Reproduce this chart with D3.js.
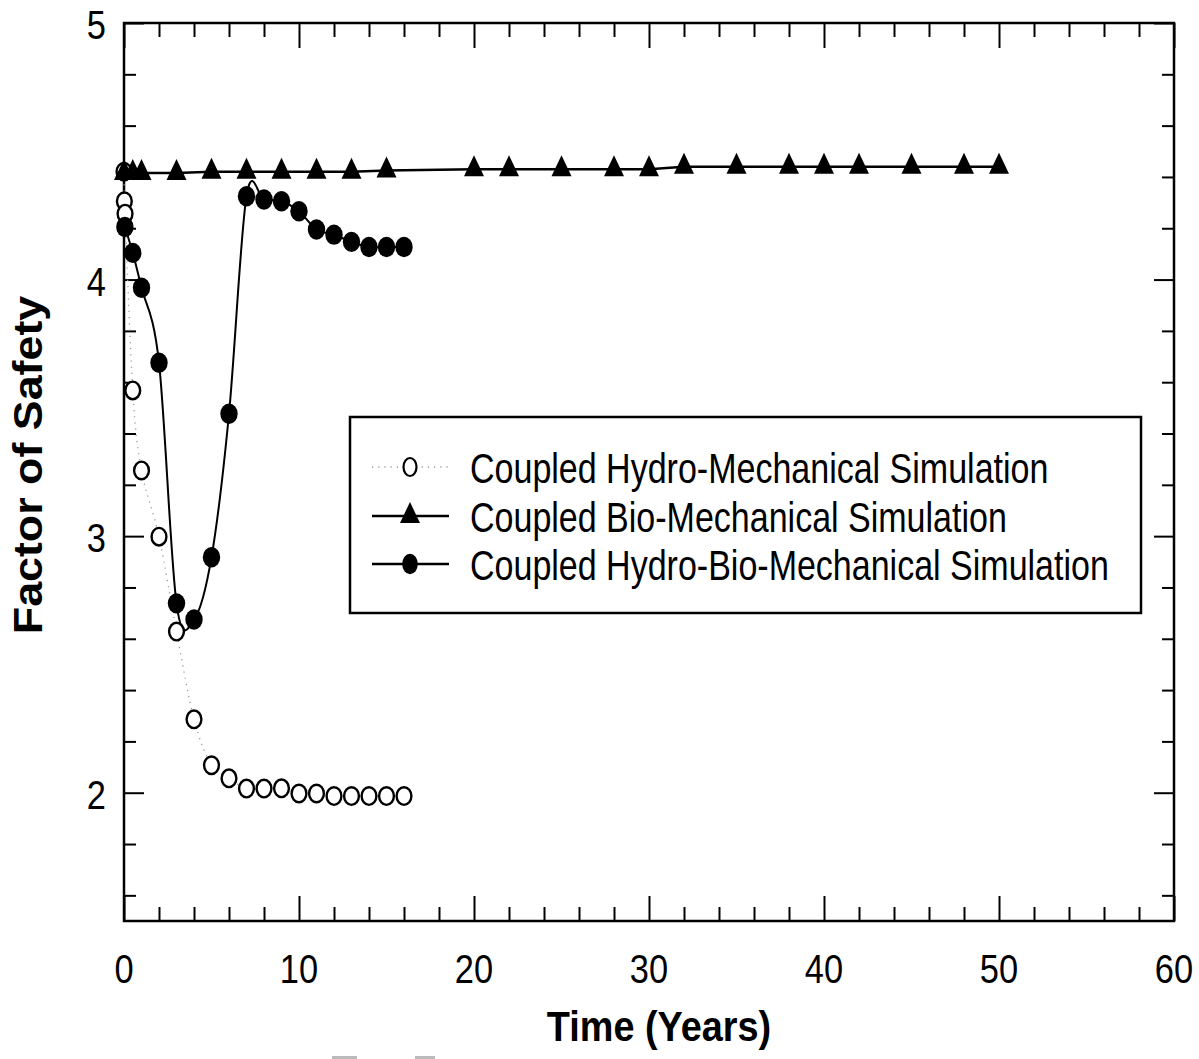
<!DOCTYPE html>
<html>
<head>
<meta charset="utf-8">
<script src="https://cdn.jsdelivr.net/npm/d3@7"></script>
<style>
  body { margin: 0; background: #fff; }
  svg { display: block; }
  text { font-family: "Liberation Sans", Arial, sans-serif; fill: #000; }
</style>
</head>
<body>
<div id="graph"></div>
<script>
// chart data
var hydroTime = [0, 0.02, 0.06, 0.5, 1, 2, 3, 4, 5, 6, 7, 8, 9, 10, 11, 12, 13, 14, 15, 16];
var hydroFos  = [4.42, 4.305, 4.257, 3.568, 3.256, 2.998, 2.628, 2.286, 2.107, 2.056, 2.016, 2.016, 2.017, 1.997, 1.997, 1.987, 1.987, 1.987, 1.987, 1.987];

var bioTime = [0, 0.5, 1, 3, 5, 7, 9, 11, 13, 15, 20, 22, 25, 28, 30, 32, 35, 38, 40, 42, 45, 48, 50];
var bioFos  = [4.415, 4.415, 4.415, 4.415, 4.42, 4.42, 4.42, 4.42, 4.42, 4.425, 4.43, 4.43, 4.43, 4.43, 4.43, 4.44, 4.44, 4.44, 4.44, 4.44, 4.44, 4.44, 4.44];

var hbmTime = [0.05, 0.5, 1, 2, 3, 4, 5, 6, 7, 8, 9, 10, 11, 12, 13, 14, 15, 16];
var hbmFos  = [4.205, 4.104, 3.968, 3.676, 2.738, 2.675, 2.918, 3.477, 4.325, 4.312, 4.305, 4.266, 4.195, 4.175, 4.147, 4.127, 4.127, 4.127];

var seriesNames = ["Coupled Hydro-Mechanical Simulation",
                   "Coupled Bio-Mechanical Simulation",
                   "Coupled Hydro-Bio-Mechanical Simulation"];

var xMajorTicks = [0, 10, 20, 30, 40, 50, 60];
var xMinorTicks = [2, 4, 6, 8, 12, 14, 16, 18, 22, 24, 26, 28, 32, 34, 36, 38, 42, 44, 46, 48, 52, 54, 56, 58];
var yMajorTicks = [2, 3, 4, 5];
var yMinorTicks = [1.6, 1.8, 2.2, 2.4, 2.6, 2.8, 3.2, 3.4, 3.6, 3.8, 4.2, 4.4, 4.6, 4.8];

var xTitle = "Time (Years)";
var yTitle = "Factor of Safety";

// layout
var width = 1199, height = 1059;
var plot = { left: 124, right: 1174, top: 23, bottom: 921 };

var svg = d3.select("#graph").append("svg")
  .attr("width", width)
  .attr("height", height);

var xScale = d3.scaleLinear().domain([0, 60]).range([plot.left, plot.right]);
var yScale = d3.scaleLinear().domain([1.5, 5]).range([plot.bottom, plot.top]);

// ticks on all four sides, pointing inward
function tickAxis(axisFn, scale, values, size, translate) {
  var g = svg.append("g")
    .attr("transform", translate)
    .call(axisFn(scale).tickValues(values).tickSize(-size).tickSizeOuter(0).tickFormat(""));
  g.select(".domain").remove();
  g.selectAll("line").attr("stroke", "#000").attr("stroke-width", 2);
  return g;
}

tickAxis(d3.axisBottom, xScale, xMinorTicks, 14, "translate(0," + plot.bottom + ")");
tickAxis(d3.axisTop, xScale, xMinorTicks, 14, "translate(0," + plot.top + ")");
tickAxis(d3.axisBottom, xScale, xMajorTicks, 25, "translate(0," + plot.bottom + ")");
tickAxis(d3.axisTop, xScale, xMajorTicks, 25, "translate(0," + plot.top + ")");
tickAxis(d3.axisLeft, yScale, yMinorTicks, 12, "translate(" + plot.left + ",0)");
tickAxis(d3.axisRight, yScale, yMinorTicks, 12, "translate(" + plot.right + ",0)");
tickAxis(d3.axisLeft, yScale, yMajorTicks, 20, "translate(" + plot.left + ",0)");
tickAxis(d3.axisRight, yScale, yMajorTicks, 20, "translate(" + plot.right + ",0)");

// frame
svg.append("rect")
  .attr("x", plot.left).attr("y", plot.top)
  .attr("width", plot.right - plot.left).attr("height", plot.bottom - plot.top)
  .attr("fill", "none").attr("stroke", "#000").attr("stroke-width", 2.5);

// tick labels (condensed Arial look)
var labelSize = 41, labelSx = 0.84;
svg.selectAll(".xlab").data(xMajorTicks).enter().append("text")
  .attr("transform", function(d) { return "translate(" + xScale(d) + ",983) scale(" + labelSx + ",1)"; })
  .attr("text-anchor", "middle")
  .style("font-size", labelSize + "px")
  .text(function(d) { return d; });

svg.selectAll(".ylab").data(yMajorTicks).enter().append("text")
  .attr("transform", function(d) { return "translate(106," + (yScale(d) + 16) + ") scale(" + labelSx + ",1)"; })
  .attr("text-anchor", "end")
  .style("font-size", labelSize + "px")
  .text(function(d) { return d; });

// axis titles
svg.append("text")
  .attr("transform", "translate(659,1041) scale(0.88,1)")
  .attr("text-anchor", "middle")
  .style("font-size", "43px").style("font-weight", "bold")
  .text(xTitle);

svg.append("text")
  .attr("transform", "translate(42,465) rotate(-90) scale(1.12,1)")
  .attr("text-anchor", "middle")
  .style("font-size", "40px").style("font-weight", "bold")
  .text(yTitle);

// lines
var smooth = d3.line()
  .x(function(d) { return xScale(d[0]); })
  .y(function(d) { return yScale(d[1]); })
  .curve(d3.curveCardinal.tension(0));

var straight = d3.line()
  .x(function(d) { return xScale(d[0]); })
  .y(function(d) { return yScale(d[1]); });

var hydro = d3.zip(hydroTime, hydroFos);
var bio = d3.zip(bioTime, bioFos);
var hbm = d3.zip(hbmTime, hbmFos);

svg.append("path").datum(hydro)
  .attr("fill", "none").attr("stroke", "#999").attr("stroke-width", 1.3)
  .attr("stroke-dasharray", "1.2,5")
  .attr("d", smooth);

svg.append("path").datum(bio)
  .attr("fill", "none").attr("stroke", "#000").attr("stroke-width", 2.5)
  .attr("d", straight);

svg.append("path").datum(hbm)
  .attr("fill", "none").attr("stroke", "#000").attr("stroke-width", 2)
  .attr("d", smooth);

// markers
var triPath = "M0,-14L10,7L-10,7Z";

svg.selectAll(".hydroPt").data(hydro).enter().append("ellipse")
  .attr("cx", function(d) { return xScale(d[0]); })
  .attr("cy", function(d) { return yScale(d[1]); })
  .attr("rx", 7.4).attr("ry", 8.8)
  .attr("fill", "#fff").attr("stroke", "#000").attr("stroke-width", 2.4);

svg.selectAll(".bioPt").data(bio).enter().append("path")
  .attr("transform", function(d) { return "translate(" + xScale(d[0]) + "," + yScale(d[1]) + ")"; })
  .attr("d", triPath)
  .attr("fill", "#000");

svg.selectAll(".hbmPt").data(hbm).enter().append("ellipse")
  .attr("cx", function(d) { return xScale(d[0]); })
  .attr("cy", function(d) { return yScale(d[1]); })
  .attr("rx", 8.7).attr("ry", 10.2)
  .attr("fill", "#000");

// legend
var legend = svg.append("g");
legend.append("rect")
  .attr("x", 350).attr("y", 417).attr("width", 791).attr("height", 196)
  .attr("fill", "#fff").attr("stroke", "#000").attr("stroke-width", 2.5);

var rowY = [467, 516, 564];

legend.append("line")
  .attr("x1", 372).attr("x2", 449).attr("y1", rowY[0]).attr("y2", rowY[0])
  .attr("stroke", "#999").attr("stroke-width", 1.3).attr("stroke-dasharray", "1.2,5");
legend.append("ellipse")
  .attr("cx", 410).attr("cy", rowY[0]).attr("rx", 6.5).attr("ry", 9)
  .attr("fill", "#fff").attr("stroke", "#000").attr("stroke-width", 2.2);

legend.append("line")
  .attr("x1", 372).attr("x2", 449).attr("y1", rowY[1]).attr("y2", rowY[1])
  .attr("stroke", "#000").attr("stroke-width", 2.5);
legend.append("path")
  .attr("transform", "translate(410," + rowY[1] + ")")
  .attr("d", triPath).attr("fill", "#000");

legend.append("line")
  .attr("x1", 372).attr("x2", 449).attr("y1", rowY[2]).attr("y2", rowY[2])
  .attr("stroke", "#000").attr("stroke-width", 2.5);
legend.append("ellipse")
  .attr("cx", 410).attr("cy", rowY[2]).attr("rx", 7.8).attr("ry", 10.2)
  .attr("fill", "#000");

legend.selectAll(".ltext").data(seriesNames).enter().append("text")
  .attr("transform", function(d, i) { return "translate(470," + (rowY[i] + 16) + ") scale(0.81,1)"; })
  .style("font-size", "42px")
  .text(function(d) { return d; });

// faint grey marks along the bottom edge of the original image
svg.append("rect").attr("x", 332).attr("y", 1056).attr("width", 25).attr("height", 3).attr("fill", "#bbb");
svg.append("rect").attr("x", 415).attr("y", 1056).attr("width", 20).attr("height", 3).attr("fill", "#bbb");
</script>
</body>
</html>
